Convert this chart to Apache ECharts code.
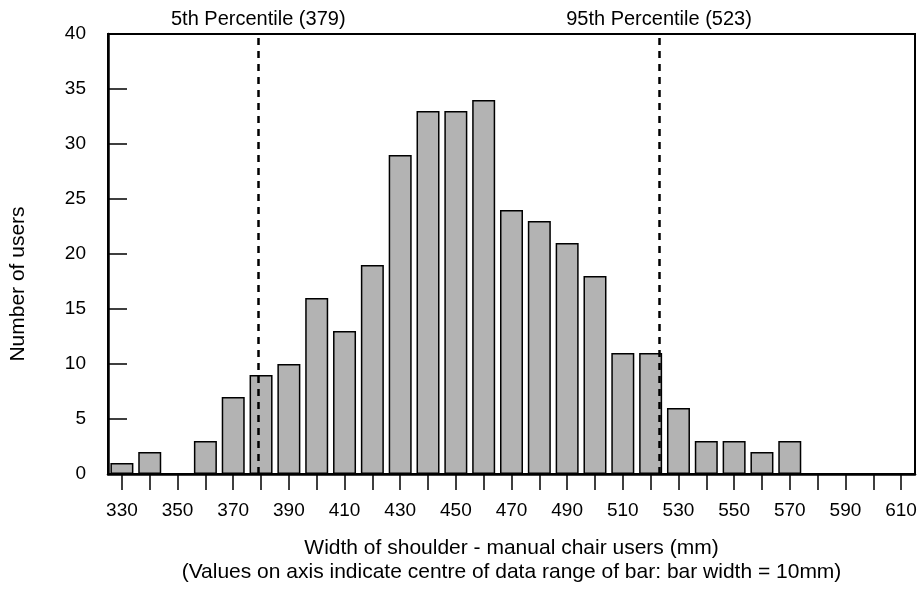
<!DOCTYPE html>
<html>
<head>
<meta charset="utf-8">
<title>Width of shoulder - manual chair users</title>
<script src="https://cdn.jsdelivr.net/npm/echarts@6/dist/echarts.min.js"></script>
<style>
  html, body { margin: 0; padding: 0; background: #fff; }
  #chart { width: 922px; height: 589px; }
</style>
</head>
<body>
<div id="chart"></div>
<script>
// Bin centres (mm) and number of users in each 10 mm bin
const binCentres = [330, 340, 350, 360, 370, 380, 390, 400, 410, 420,
                    430, 440, 450, 460, 470, 480, 490, 500, 510, 520,
                    530, 540, 550, 560, 570, 580, 590, 600, 610];
const userCounts = [1, 2, 0, 3, 7, 9, 10, 16, 13, 19,
                    29, 33, 33, 34, 24, 23, 21, 18, 11, 11,
                    6, 3, 3, 2, 3, 0, 0, 0, 0];

// Percentile markers
const percentileNames = ['5th', '95th'];
const percentileValues = [379, 523];

// Axis ticks and labels
const xTickValues = binCentres;
const xLabelValues = [330, 350, 370, 390, 410, 430, 450, 470, 490, 510, 530, 550, 570, 590, 610];
const yTickValues = [0, 5, 10, 15, 20, 25, 30, 35, 40];

const FONT = '"Liberation Sans", Arial, Helvetica, sans-serif';

const chart = echarts.init(document.getElementById('chart'), null, { renderer: 'canvas' });

chart.setOption({
  animation: false,
  backgroundColor: '#ffffff',
  textStyle: { fontFamily: FONT, color: '#000' },
  grid: {
    left: 108, right: 7, top: 34, bottom: 115,
    show: true, borderColor: '#000', borderWidth: 2, backgroundColor: 'transparent'
  },
  xAxis: {
    type: 'value',
    min: 325, max: 615,
    name: 'Width of shoulder - manual chair users (mm)\n(Values on axis indicate centre of data range of bar: bar width = 10mm)',
    nameLocation: 'middle',
    nameGap: 62,
    nameTextStyle: { fontFamily: FONT, fontSize: 21, color: '#000', lineHeight: 24 },
    axisLine: { show: true, onZero: false, lineStyle: { color: '#000', width: 2.5 } },
    axisTick: { show: true, inside: false, length: 16, customValues: xTickValues,
                lineStyle: { color: '#000', width: 1.5 } },
    axisLabel: { customValues: xLabelValues, margin: 27, fontSize: 19, color: '#000', fontFamily: FONT },
    splitLine: { show: false }
  },
  yAxis: {
    type: 'value',
    min: 0, max: 40, interval: 5,
    name: 'Number of users',
    nameLocation: 'middle',
    nameGap: 79,
    // title sits a little below the plot's vertical centre
    nameTextStyle: { fontFamily: FONT, fontSize: 21, color: '#000', padding: [0, 60, 0, 0] },
    axisLine: { show: true, lineStyle: { color: '#000', width: 2.5 } },
    axisTick: { show: true, inside: true, length: 19, customValues: yTickValues,
                lineStyle: { color: '#000', width: 1.5 } },
    axisLabel: { margin: 22, fontSize: 19, color: '#000', fontFamily: FONT },
    splitLine: { show: false }
  },
  series: [{
    type: 'bar',
    data: binCentres.map((c, i) => [c, userCounts[i]]),
    barWidth: 23,
    itemStyle: { color: '#b3b3b3', borderColor: '#000', borderWidth: 1.5 },
    markLine: {
      silent: true,
      symbol: ['none', 'none'],
      lineStyle: { color: '#000', width: 2.5, type: [7, 6] },
      label: {
        show: true, position: 'end', distance: 5,
        formatter: '{b}', fontSize: 20, color: '#000', fontFamily: FONT
      },
      data: percentileValues.map((v, i) => ({
        xAxis: v,
        name: percentileNames[i] + ' Percentile (' + v + ')'
      }))
    }
  }]
});
</script>
</body>
</html>
